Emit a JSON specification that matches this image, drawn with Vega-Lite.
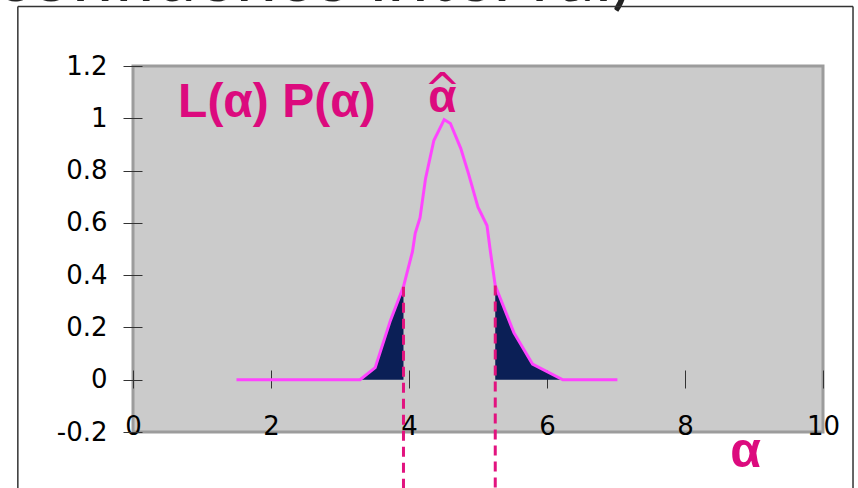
{
  "$schema": "https://vega.github.io/schema/vega-lite/v6.json",
  "width": 690,
  "height": 366,
  "autosize": {"type": "none"},
  "padding": {"left": 133, "top": 66, "right": 35, "bottom": 56},
  "background": "white",
  "config": {"view": {"fill": "#cbcbcb", "stroke": "#9c9c9c", "strokeWidth": 3}},
  "datasets": {
    "curve": [
      {"a": 1.5, "p": 0}, {"a": 3.29, "p": 0}, {"a": 3.51, "p": 0.046}, {"a": 3.73, "p": 0.226},
      {"a": 3.92, "p": 0.356}, {"a": 4.05, "p": 0.49}, {"a": 4.09, "p": 0.56}, {"a": 4.16, "p": 0.62},
      {"a": 4.24, "p": 0.77}, {"a": 4.36, "p": 0.915}, {"a": 4.51, "p": 0.995}, {"a": 4.6, "p": 0.98},
      {"a": 4.75, "p": 0.885}, {"a": 4.86, "p": 0.79}, {"a": 5.0, "p": 0.66}, {"a": 5.13, "p": 0.59},
      {"a": 5.18, "p": 0.49}, {"a": 5.25, "p": 0.36}, {"a": 5.52, "p": 0.18}, {"a": 5.79, "p": 0.06},
      {"a": 6.23, "p": 0}, {"a": 7.02, "p": 0}
    ],
    "tailL": [
      {"a": 3.29, "p": 0}, {"a": 3.51, "p": 0.046}, {"a": 3.73, "p": 0.226}, {"a": 3.92, "p": 0.356}
    ],
    "tailR": [
      {"a": 5.25, "p": 0.36}, {"a": 5.52, "p": 0.18}, {"a": 5.79, "p": 0.06}, {"a": 6.23, "p": 0}
    ],
    "cuts": [{"a": 3.92, "p": 0.356}, {"a": 5.25, "p": 0.36}],
    "frameV": [{"a": -1.669, "p": 1.428, "p2": -0.5}, {"a": 10.435, "p": 1.428, "p2": -0.5}],
    "frameH": [{"a": -1.669, "a2": 10.435, "p": 1.428}]
  },
  "encoding": {
    "x": {
      "field": "a", "type": "quantitative",
      "scale": {"domain": [0, 10], "nice": false, "zero": false},
      "axis": {
        "title": null, "orient": "bottom", "offset": -62, "domain": false, "grid": false,
        "values": [0, 2, 4, 6, 8, 10], "tickSize": 18, "tickColor": "#333333", "tickWidth": 1,
        "labelBaseline": "alphabetic", "labelPadding": 46, "labelFont": "DejaVu Sans",
        "labelFontSize": 26, "labelColor": "#000000", "labelFlush": false, "labelOverlap": false
      }
    },
    "y": {
      "field": "p", "type": "quantitative",
      "scale": {"domain": [-0.2, 1.2], "nice": false, "zero": false},
      "axis": {
        "title": null, "offset": -9, "domain": false, "grid": false,
        "values": [-0.2, 0, 0.2, 0.4, 0.6, 0.8, 1, 1.2], "labelExpr": "'' + datum.value",
        "tickSize": 19, "tickColor": "#333333", "tickWidth": 1,
        "labelPadding": 16, "labelFont": "DejaVu Sans", "labelFontSize": 26,
        "labelColor": "#000000", "labelFlush": false, "labelOverlap": false
      }
    }
  },
  "layer": [
    {
      "data": {"values": [{}]},
      "mark": {"type": "rule", "color": "#222222", "strokeWidth": 1.5},
      "encoding": {"x": {"datum": 0}, "y": {"datum": -0.2}, "y2": {"datum": 1.2}}
    },
    {
      "data": {"values": [{}]},
      "mark": {"type": "rule", "color": "#333333", "strokeWidth": 1},
      "encoding": {"x": {"datum": 0}, "x2": {"datum": 10}, "y": {"datum": 0}}
    },
    {
      "data": {"name": "tailL"},
      "mark": {"type": "area", "color": "#0b1f56"},
      "encoding": {"y2": {"datum": 0}}
    },
    {
      "data": {"name": "tailR"},
      "mark": {"type": "area", "color": "#0b1f56"},
      "encoding": {"y2": {"datum": 0}}
    },
    {
      "data": {"name": "curve"},
      "mark": {"type": "line", "color": "#ff44ff", "strokeWidth": 3}
    },
    {
      "data": {"name": "cuts"},
      "mark": {"type": "rule", "color": "#e2137f", "strokeWidth": 3, "strokeDash": [10, 6]},
      "encoding": {"y2": {"datum": -0.45}}
    },
    {
      "data": {"values": [{"t": "L(α) P(α)", "a": 0.653, "p": 1.005}]},
      "mark": {"type": "text", "align": "left", "baseline": "alphabetic", "font": "Liberation Sans", "fontWeight": "bold", "fontSize": 48, "color": "#dc0a7e"},
      "encoding": {"text": {"field": "t"}}
    },
    {
      "data": {"values": [{"t": "α", "a": 4.485, "p": 1.024}]},
      "mark": {"type": "text", "align": "center", "baseline": "alphabetic", "font": "Liberation Sans", "fontWeight": "bold", "fontSize": 46, "color": "#dc0a7e"},
      "encoding": {"text": {"field": "t"}}
    },
    {
      "data": {"values": [{"t": "^", "a": 4.485, "p": 1.055}]},
      "mark": {"type": "text", "align": "center", "baseline": "alphabetic", "font": "DejaVu Sans", "fontSize": 44, "color": "#dc0a7e"},
      "encoding": {"text": {"field": "t"}}
    },
    {
      "data": {"values": [{"t": "α", "a": 8.88, "p": -0.334}]},
      "mark": {"type": "text", "align": "center", "baseline": "alphabetic", "font": "Liberation Sans", "fontWeight": "bold", "fontSize": 50, "color": "#dc0a7e"},
      "encoding": {"text": {"field": "t"}}
    },
    {
      "data": {"values": [{"t": "(confidence interval)", "a": 7.23, "p": 1.449}]},
      "mark": {"type": "text", "align": "right", "baseline": "alphabetic", "font": "Lato", "fontSize": 74, "color": "#222222"},
      "encoding": {"text": {"field": "t"}}
    },
    {
      "data": {"name": "frameV"},
      "mark": {"type": "rule", "color": "#333333", "strokeWidth": 1.5},
      "encoding": {"y2": {"field": "p2"}}
    },
    {
      "data": {"name": "frameH"},
      "mark": {"type": "rule", "color": "#333333", "strokeWidth": 1.5},
      "encoding": {"x2": {"field": "a2"}}
    }
  ]
}
